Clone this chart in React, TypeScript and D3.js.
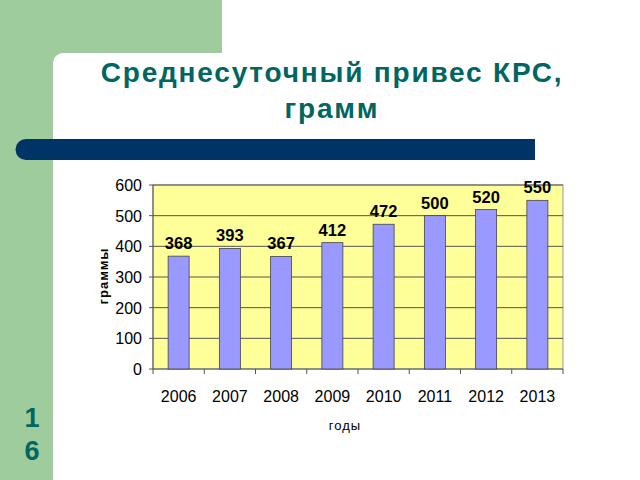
import React from "react";
import * as d3 from "d3";

const years = ["2006", "2007", "2008", "2009", "2010", "2011", "2012", "2013"];
const gains = [368, 393, 367, 412, 472, 500, 520, 550];
const yTicks = [0, 100, 200, 300, 400, 500, 600];
const titleLines = ["Среднесуточный привес КРС,", "грамм"];
const slideNumber = ["1", "6"];

export default function App() {
  const W = 640, H = 480;
  const left = 153, right = 563, top = 185, bottom = 369;
  const x = d3.scaleBand<string>().domain(years).range([left, right]).paddingInner(0.59).paddingOuter(0.295);
  const xb = d3.scaleBand<string>().domain(years).range([left, right]);
  const y = d3.scaleLinear().domain([0, 600]).range([bottom, top]);
  const teal = "#006661";
  const font = "Arial, 'Liberation Sans', sans-serif";
  return (
    <svg width={W} height={H} style={{ position: "absolute", left: 0, top: 0 }} fontFamily={font}>
      <rect x={0} y={0} width={W} height={H} fill="#fff" />
      <rect x={0} y={0} width={53} height={H} fill="#9fcc9c" />
      <rect x={0} y={0} width={222} height={53} fill="#9fcc9c" />
      <path d="M53,63 A10,10 0 0 1 63,53 L53,53 Z" fill="#9fcc9c" />
      {titleLines.map((t, i) => (
        <text key={i} x={332} y={82 + i * 36} textAnchor="middle" fontSize={28} fontWeight="bold" letterSpacing={1.8} fill={teal}>{t}</text>
      ))}
      <path d="M26,139 L535,139 L535,160 L26,160 A10.5,10.5 0 0 1 26,139 Z" fill="#003366" />
      {slideNumber.map((t, i) => (
        <text key={i} x={32} y={427 + i * 33} textAnchor="middle" fontSize={27} fontWeight="bold" fill={teal}>{t}</text>
      ))}
      <rect x={left} y={top} width={right - left} height={bottom - top} fill="#ffff99" stroke="#999" strokeWidth={1} />
      {yTicks.map((v) => (
        <g key={v}>
          <line x1={left} x2={right} y1={y(v)} y2={y(v)} stroke="#555" strokeWidth={1} />
          <line x1={left - 4} x2={left} y1={y(v)} y2={y(v)} stroke="#555" />
          <text x={142} y={y(v) + 6} textAnchor="end" fontSize={16} fill="#000">{v}</text>
        </g>
      ))}
      <line x1={left} x2={left} y1={top} y2={bottom} stroke="#555" />
      {years.map((yr) => (
        <line key={yr} x1={xb(yr)!} x2={xb(yr)!} y1={bottom} y2={bottom + 5} stroke="#555" />
      ))}
      <line x1={right} x2={right} y1={bottom} y2={bottom + 5} stroke="#555" />
      {years.map((yr, i) => (
        <g key={yr}>
          <rect x={x(yr)!} y={y(gains[i])} width={x.bandwidth()} height={bottom - y(gains[i])} fill="#9999ff" stroke="#444" strokeWidth={0.8} />
          <text x={x(yr)! + x.bandwidth() / 2} y={y(gains[i]) - 7} textAnchor="middle" fontSize={16.5} fontWeight="bold" fill="#000">{gains[i]}</text>
          <text x={xb(yr)! + xb.bandwidth() / 2} y={402} textAnchor="middle" fontSize={16} fill="#000">{yr}</text>
        </g>
      ))}
      <text x={345} y={430} textAnchor="middle" fontSize={13} letterSpacing={1} fill="#000">годы</text>
      <text transform={`translate(108,276) rotate(-90)`} textAnchor="middle" fontSize={13} fontWeight="bold" letterSpacing={1} fill="#000">граммы</text>
    </svg>
  );
}
